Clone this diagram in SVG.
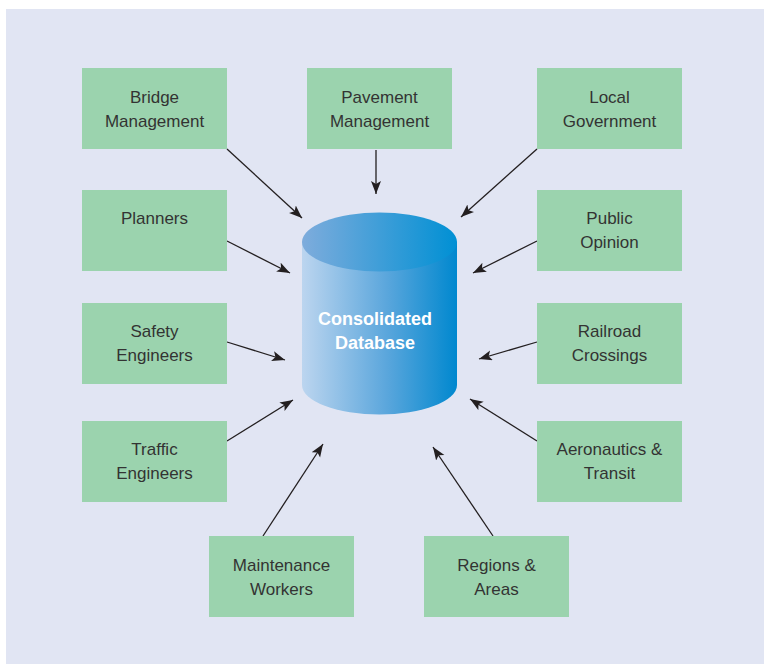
<svg xmlns="http://www.w3.org/2000/svg" width="765" height="664" viewBox="0 0 765 664">
<defs>
<style>
.box{fill:#9bd3ae;}
.lbl{font-family:"Liberation Sans",Arial,sans-serif;font-size:17px;fill:#333333;text-anchor:middle;}
.db{font-family:"Liberation Sans",Arial,sans-serif;font-size:18px;font-weight:bold;fill:#ffffff;text-anchor:middle;}
.con{stroke:#231f20;stroke-width:1.3;fill:none;marker-end:url(#ah);}
</style>
<marker id="ah" markerUnits="userSpaceOnUse" markerWidth="14" markerHeight="12" refX="13" refY="5" orient="auto">
<path d="M0,0 L13,5 L0,10 L3,5 Z" fill="#231f20"/>
</marker>
<linearGradient id="body" x1="0" y1="0" x2="1" y2="0">
<stop offset="0" stop-color="#bcd5ef"/>
<stop offset="0.55" stop-color="#5aa6dc"/>
<stop offset="1" stop-color="#0088cf"/>
</linearGradient>
<linearGradient id="top" x1="0" y1="0" x2="1" y2="0">
<stop offset="0" stop-color="#7eacdc"/>
<stop offset="1" stop-color="#0090d4"/>
</linearGradient>
</defs>
<rect x="0" y="0" width="765" height="664" fill="#ffffff"/>
<rect x="6" y="9" width="758" height="655" fill="#e1e5f3"/>

<g id="connectors">
<line class="con" x1="227" y1="149" x2="302" y2="218"/>
<line class="con" x1="376" y1="150" x2="376" y2="194"/>
<line class="con" x1="537" y1="149" x2="461" y2="217"/>
<line class="con" x1="227" y1="241" x2="290" y2="273"/>
<line class="con" x1="537" y1="241" x2="473" y2="273"/>
<line class="con" x1="227" y1="342" x2="285" y2="360"/>
<line class="con" x1="537" y1="342" x2="479" y2="359"/>
<line class="con" x1="227" y1="441" x2="293" y2="400"/>
<line class="con" x1="537" y1="441" x2="470" y2="399"/>
<line class="con" x1="263" y1="536" x2="323" y2="444"/>
<line class="con" x1="493" y1="536" x2="433" y2="447"/>
</g>

<g id="database">
<path d="M302,242 L302,385 A77.5,29.5 0 0 0 457,385 L457,242 Z" fill="url(#body)"/>
<ellipse cx="379.5" cy="242" rx="77.5" ry="29.5" fill="url(#top)"/>
<text class="db" x="375" y="325">Consolidated</text>
<text class="db" x="375" y="349">Database</text>
</g>

<g id="bridge"><rect class="box" x="82" y="68" width="145" height="81"/>
<text class="lbl" x="154.5" y="103">Bridge</text><text class="lbl" x="154.5" y="127">Management</text></g>
<g id="pavement"><rect class="box" x="307" y="68" width="145" height="81"/>
<text class="lbl" x="379.5" y="103">Pavement</text><text class="lbl" x="379.5" y="127">Management</text></g>
<g id="localgov"><rect class="box" x="537" y="68" width="145" height="81"/>
<text class="lbl" x="609.5" y="103">Local</text><text class="lbl" x="609.5" y="127">Government</text></g>

<g id="planners"><rect class="box" x="82" y="190" width="145" height="81"/>
<text class="lbl" x="154.5" y="224">Planners</text></g>
<g id="public"><rect class="box" x="537" y="190" width="145" height="81"/>
<text class="lbl" x="609.5" y="224">Public</text><text class="lbl" x="609.5" y="248">Opinion</text></g>

<g id="safety"><rect class="box" x="82" y="303" width="145" height="81"/>
<text class="lbl" x="154.5" y="337">Safety</text><text class="lbl" x="154.5" y="361">Engineers</text></g>
<g id="railroad"><rect class="box" x="537" y="303" width="145" height="81"/>
<text class="lbl" x="609.5" y="337">Railroad</text><text class="lbl" x="609.5" y="361">Crossings</text></g>

<g id="traffic"><rect class="box" x="82" y="421" width="145" height="81"/>
<text class="lbl" x="154.5" y="455">Traffic</text><text class="lbl" x="154.5" y="479">Engineers</text></g>
<g id="aero"><rect class="box" x="537" y="421" width="145" height="81"/>
<text class="lbl" x="609.5" y="455">Aeronautics &amp;</text><text class="lbl" x="609.5" y="479">Transit</text></g>

<g id="maintenance"><rect class="box" x="209" y="536" width="145" height="81"/>
<text class="lbl" x="281.5" y="571">Maintenance</text><text class="lbl" x="281.5" y="595">Workers</text></g>
<g id="regions"><rect class="box" x="424" y="536" width="145" height="81"/>
<text class="lbl" x="496.5" y="571">Regions &amp;</text><text class="lbl" x="496.5" y="595">Areas</text></g>
</svg>
